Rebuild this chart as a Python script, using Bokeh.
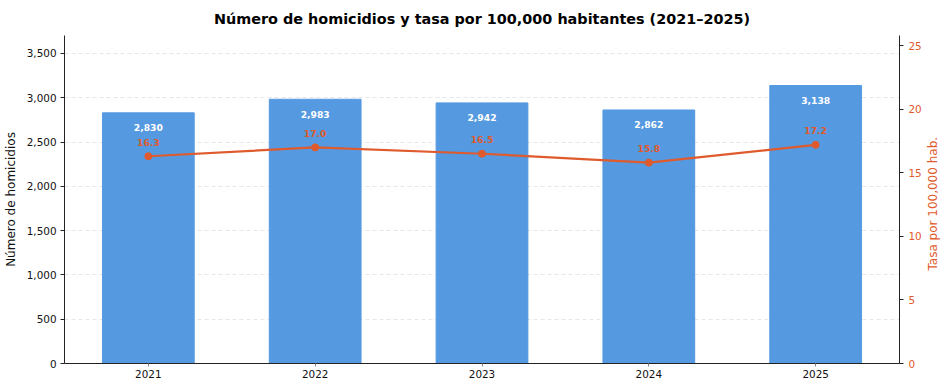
import math
from bokeh.plotting import figure
from bokeh.layouts import row
from bokeh.models import Range1d, LinearAxis, NumeralTickFormatter, FixedTicker, ColumnDataSource
from bokeh.embed import file_html
from bokeh.resources import INLINE
from bokeh.core.properties import value

years = ["2021", "2022", "2023", "2024", "2025"]
homicides = [2830, 2983, 2942, 2862, 3138]
rates = [16.3, 17.0, 16.5, 15.8, 17.2]
left_ticks = [0, 500, 1000, 1500, 2000, 2500, 3000, 3500]
right_ticks = [0, 5, 10, 15, 20, 25]

BAR = "#5599E0"
LINE = "#DF5A2C"
FONT = "DejaVu Sans"

W, H = 924, 388
BL, BR, BT, BB = 64, 24, 35, 25
SIDE_W = 20

xs = list(range(len(years)))
src = ColumnDataSource(dict(
    x=xs, h=homicides, r=rates,
    hl=[f"{v:,}" for v in homicides],
    rl=[f"{v:.1f}" for v in rates],
))

p = figure(width=W, height=H, output_backend="svg", toolbar_location=None,
           x_range=Range1d(-0.5025, 4.5025), y_range=Range1d(0, max(homicides) * 1.18),
           min_border_left=BL, min_border_right=BR, min_border_top=BT, min_border_bottom=BB)
p.extra_y_ranges = {"rate": Range1d(0, max(rates) * 1.5)}

p.title.text = "Número de homicidios y tasa por 100,000 habitantes (2021–2025)"
p.title.align = "center"
p.title.text_font = FONT
p.title.text_font_size = "14.4px"
p.title.text_font_style = "bold"
p.title.text_color = "black"
p.title.standoff = 17
p.title.offset = 0

p.outline_line_color = None
p.xgrid.grid_line_color = None
p.ygrid.ticker = FixedTicker(ticks=left_ticks)
p.ygrid.grid_line_color = "#dddddd"
p.ygrid.grid_line_dash = "4 3"
p.ygrid.grid_line_alpha = 0.7

p.vbar(x="x", top="h", width=0.55, color=BAR, source=src)
p.line(x="x", y="r", line_color=LINE, line_width=2.2, y_range_name="rate", source=src)
p.scatter(x="x", y="r", size=7, color=LINE, y_range_name="rate", source=src)

p.text(x="x", y="h", text="hl", source=src, text_color="white",
       text_font=value(FONT), text_font_size="9.2px", text_font_style="bold",
       text_align="center", text_baseline="middle", y_offset=15)
p.text(x="x", y="r", text="rl", source=src, text_color=LINE, y_range_name="rate",
       text_font=value(FONT), text_font_size="9.2px", text_font_style="bold",
       text_align="center", text_baseline="middle", y_offset=-14)

# axes
xa = p.xaxis[0]
xa.ticker = FixedTicker(ticks=xs)
xa.major_label_overrides = {i: y for i, y in zip(xs, years)}
xa.minor_tick_line_color = None

ya = p.yaxis[0]
ya.ticker = FixedTicker(ticks=left_ticks)
ya.formatter = NumeralTickFormatter(format="0,0")
ya.axis_label = "Número de homicidios"
ya.minor_tick_line_color = None

ra = LinearAxis(y_range_name="rate", ticker=FixedTicker(ticks=right_ticks))
ra.minor_tick_line_color = None
p.add_layout(ra, "right")

for ax in [xa, ya, ra]:
    ax.major_label_text_font = FONT
    ax.major_label_text_font_size = "10.4px"
    ax.major_label_text_color = "#111111"
    ax.axis_label_text_font = FONT
    ax.axis_label_text_font_size = "12px"
    ax.axis_label_text_font_style = "normal"
    ax.axis_label_text_color = "#111111"
    ax.axis_line_color = "#222222"
    ax.major_tick_line_color = "#222222"
    ax.major_tick_out = 4
    ax.major_tick_in = 0
    ax.major_label_standoff = 4
    ax.axis_label_standoff = 6

xa.major_tick_line_color = "#888888"
xa.major_tick_out = 3
xa.major_label_standoff = 3
ra.major_label_text_color = LINE
ra.major_label_standoff = 5

# narrow strip holding the right axis title, reading bottom-to-top
side = figure(width=SIDE_W, height=H, output_backend="svg", toolbar_location=None,
              x_axis_type=None, y_axis_type=None,
              x_range=Range1d(0, SIDE_W), y_range=Range1d(0, H),
              min_border=0, outline_line_color=None)
side.xgrid.grid_line_color = None
side.ygrid.grid_line_color = None
side.text(x=[8], y=[H - (BT + (H - BT - BB) / 2)], text=["Tasa por 100,000 hab."],
          angle=math.pi / 2, text_align="center", text_baseline="middle",
          text_font=value(FONT), text_font_size="12px", text_color=LINE)

layout = row(p, side, spacing=0)
open("out.html", "w").write(file_html(layout, INLINE))
